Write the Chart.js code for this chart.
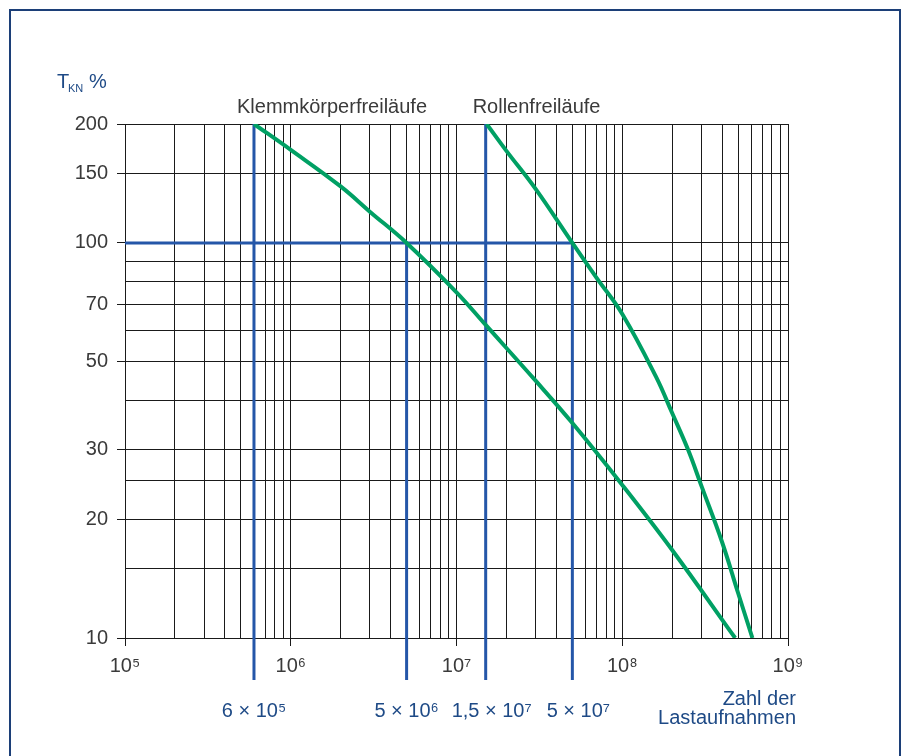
<!DOCTYPE html>
<html><head><meta charset="utf-8">
<script src="https://cdn.jsdelivr.net/npm/chart.js@4"></script>
<style>
html,body{margin:0;padding:0;background:#fff;width:905px;height:756px;overflow:hidden}
#frame{position:absolute;left:9px;top:9px;width:892px;height:800px;border:2px solid #1c3f78;border-bottom:none;box-sizing:border-box}
#c{position:absolute;left:0;top:0}
</style></head>
<body>
<div id="frame"></div>
<canvas id="c" width="905" height="756"></canvas>
<script>
// ---- data ----
const klemmX = [6e5, 1e6, 2e6, 3e6, 5e6, 1e7, 1.5e7, 3e7, 5e7, 1e8, 2e8, 4.8e8];
const klemmY = [200, 172, 139, 120, 100, 75, 62, 44.8, 35, 24.4, 16.7, 10];
const rollenX = [1.52e7, 2e7, 3e7, 5e7, 7e7, 1e8, 1.6e8, 2e8, 2.5e8, 3e8, 4e8, 5e8, 6.1e8];
const rollenY = [200, 171, 137, 100, 81.6, 66.1, 45.8, 37.1, 29.9, 24.3, 17.5, 13.0, 10];
const seriesNames = ['Klemmkörperfreiläufe', 'Rollenfreiläufe'];
const markerX = [6e5, 5e6, 1.5e7, 5e7];
const markerTop = [200, 100, 200, 100];
const markerLabels = ['6 × 10⁵', '5 × 10⁶', '1,5 × 10⁷', '5 × 10⁷'];
const refLevel = 100;
const xDecades = [1e5, 1e6, 1e7, 1e8, 1e9];
const xTickLabels = ['10⁵', '10⁶', '10⁷', '10⁸', '10⁹'];
const yGrid = [10, 15, 20, 25, 30, 40, 50, 60, 70, 80, 90, 100, 150, 200];
const yLabeled = [10, 20, 30, 50, 70, 100, 150, 200];
const xTitle = ['Zahl der', 'Lastaufnahmen'];

// ---- styles ----
const GREEN = '#00a064', BLUE = '#2456a8', TXT = '#3a3a3a', BLUETXT = '#1e4a86', GRID = '#1a1a1a';
const FONT = '"Liberation Sans", Arial, sans-serif';

const xGrid = [];
for (let d = 0; d < xDecades.length - 1; d++) for (let m = 1; m <= 9; m++) xGrid.push(m * xDecades[d]);
xGrid.push(xDecades[xDecades.length - 1]);

const datasets = [
  { data: klemmX.map((v, i) => ({x: v, y: klemmY[i]})), borderColor: GREEN, borderWidth: 4, tension: 0.4 },
  { data: rollenX.map((v, i) => ({x: v, y: rollenY[i]})), borderColor: GREEN, borderWidth: 4, tension: 0.4 },
  { data: [{x: xDecades[0], y: refLevel}, {x: markerX[3], y: refLevel}], borderColor: BLUE, borderWidth: 3, tension: 0 }
];
markerX.forEach((v, i) => datasets.push({ data: [{x: v, y: markerTop[i]}, {x: v, y: yGrid[0]}], borderColor: BLUE, borderWidth: 3, tension: 0 }));
datasets.forEach(d => { d.pointRadius = 0; d.fill = false; });

const extras = {
  id: 'extras',
  afterDraw(chart) {
    const {ctx, chartArea: a, scales: {x, y}} = chart;
    ctx.save();
    // marker extensions below the axis
    ctx.strokeStyle = BLUE; ctx.lineWidth = 3;
    markerX.forEach(v => { const px = x.getPixelForValue(v); ctx.beginPath(); ctx.moveTo(px, a.bottom); ctx.lineTo(px, a.bottom + 42); ctx.stroke(); });
    // marker labels
    ctx.fillStyle = BLUETXT; ctx.font = '20px ' + FONT; ctx.textAlign = 'center'; ctx.textBaseline = 'alphabetic';
    markerLabels.forEach((t, i) => ctx.fillText(t, x.getPixelForValue(markerX[i]) + (i >= 2 ? 6 : 0), a.bottom + 79));
    // x title
    ctx.textAlign = 'right';
    ctx.fillText(xTitle[0], a.right + 8, a.bottom + 67);
    ctx.fillText(xTitle[1], a.right + 8, a.bottom + 86);
    // y title T_KN %
    ctx.textAlign = 'left';
    ctx.fillText('T', 57, 88);
    ctx.font = '11px ' + FONT; ctx.fillText('KN', 68, 92);
    ctx.font = '20px ' + FONT; ctx.fillText('%', 89, 88);
    // series names
    ctx.fillStyle = TXT;
    ctx.fillText(seriesNames[0], x.getPixelForValue(klemmX[0]) - 17, a.top - 11);
    ctx.fillText(seriesNames[1], x.getPixelForValue(rollenX[0]) - 14, a.top - 11);
    ctx.restore();
  }
};

new Chart(document.getElementById('c'), {
  type: 'line',
  data: { datasets },
  plugins: [extras],
  options: {
    responsive: false, animation: false, devicePixelRatio: 1,
    layout: { padding: { left: 0, top: 124, right: 117, bottom: 78 } },
    plugins: { legend: { display: false }, tooltip: { enabled: false } },
    scales: {
      x: {
        type: 'logarithmic', min: 1e5, max: 1e9,
        afterBuildTicks: s => { s.ticks = xGrid.map(v => ({value: v})); },
        afterFit: s => { s.height = 40; },
        ticks: {
          autoSkip: false, maxRotation: 0, minRotation: 0, padding: 8,
          color: TXT, font: { family: FONT, size: 20 },
          callback: v => { const i = xDecades.indexOf(v); return i >= 0 ? xTickLabels[i] : ''; }
        },
        grid: {
          color: GRID, lineWidth: 1, tickLength: 8,
          tickColor: c => (c.tick && xDecades.includes(c.tick.value)) ? GRID : 'rgba(0,0,0,0)'
        },
        border: { color: GRID, width: 1 }
      },
      y: {
        type: 'logarithmic', min: 10, max: 200,
        afterBuildTicks: s => { s.ticks = yGrid.map(v => ({value: v})); },
        afterFit: s => { s.width = 125; },
        ticks: {
          autoSkip: false, padding: 9, color: TXT, font: { family: FONT, size: 20 },
          callback: v => yLabeled.includes(v) ? String(v) : ''
        },
        grid: {
          color: GRID, lineWidth: 1, tickLength: 8,
          tickColor: c => (c.tick && yLabeled.includes(c.tick.value)) ? GRID : 'rgba(0,0,0,0)'
        },
        border: { color: GRID, width: 1 }
      }
    }
  }
});
</script>
</body></html>
